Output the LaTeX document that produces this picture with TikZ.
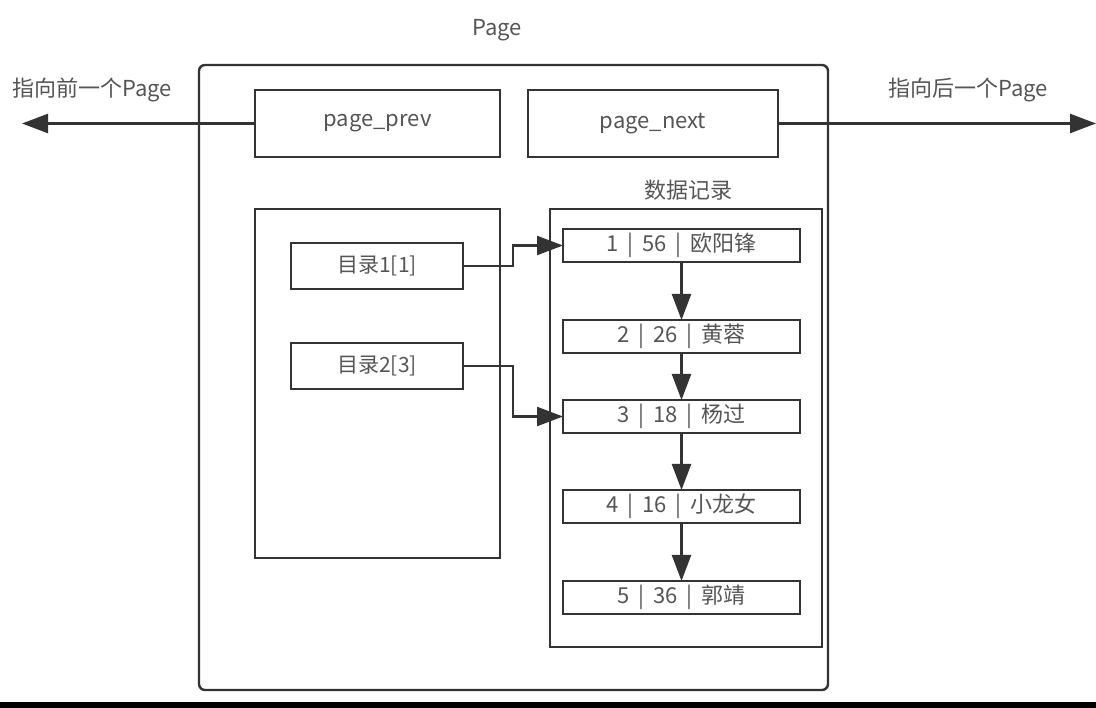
\documentclass[tikz,border=0pt]{standalone}
\usepackage{fontspec}
\setmainfont{Noto Sans CJK SC}
\usepackage{tikz}
\usetikzlibrary{arrows.meta,positioning}
\definecolor{edge}{HTML}{333333}
\definecolor{ink}{HTML}{555555}
\newcommand{\fsep}{\hspace{9pt}|\hspace{9pt}}
\tikzset{
	box/.style={draw=edge, line width=2.4pt, inner sep=0pt, outer sep=0pt, text=ink},
	rec/.style={box, minimum width=237pt, minimum height=33pt, font=\fontsize{22}{22}\selectfont},
	dir/.style={box, minimum width=172pt, minimum height=46pt, font=\fontsize{21}{21}\selectfont},
	lbl/.style={text=ink, inner sep=0pt, font=\fontsize{22}{22}\selectfont},
	link/.style={draw=edge, line width=2.4pt, -{Triangle[length=26pt,width=19pt]}},
}

\begin{document}
\begin{tikzpicture}[x=1pt,y=-1pt]
	\useasboundingbox (0,0) rectangle (1096,708);
	\fill[black] (0,702) rectangle (1096,708);

	\node[box, rounded corners=6pt, minimum width=629pt, minimum height=625pt] (page) at (513.5,377.5) {};
	\node[lbl] (pagetitle) at (497,30) {Page};

	\node[box, minimum width=245pt, minimum height=67pt, font=\fontsize{22}{22}\selectfont] (prev) at (377.5,123.5) {page\_prev};
	\node[box, minimum width=250pt, minimum height=67pt, font=\fontsize{22}{22}\selectfont] (next) at (653,123.5) {page\_next};
	\coordinate (prevend) at (22,123.5);
	\coordinate (nextend) at (1096,123.5);
	\node[lbl] (prevlbl) at (92,90) {指向前一个Page};
	\node[lbl] (nextlbl) at (968,90) {指向后一个Page};
	\draw[link] (prev.west) -- (prevend);
	\draw[link] (next.east) -- (nextend);

	% 目录
	\node[box, minimum width=245pt, minimum height=349pt] (index) at (377.5,383.5) {};
	\node[dir] (dir1) at (377,266) {目录1[1]};
	\node[dir, below=54pt of dir1] (dir2) {目录2[3]};

	% 数据记录
	\node[box, minimum width=272pt, minimum height=438pt] (data) at (686,428) {};
	\node[lbl] (datalbl) at (688,190) {数据记录};
	\node[rec] (r1) at (681.5,245.5) {1\fsep 56\fsep 欧阳锋};
	\node[rec, below=58pt of r1] (r2) {2\fsep 26\fsep 黄蓉};
	\node[rec, below=47pt of r2] (r3) {3\fsep 18\fsep 杨过};
	\node[rec, below=57pt of r3] (r4) {4\fsep 16\fsep 小龙女};
	\node[rec, below=58pt of r4] (r5) {5\fsep 36\fsep 郭靖};

	\draw[link] (r1) -- (r2);
	\draw[link] (r2) -- (r3);
	\draw[link] (r3) -- (r4);
	\draw[link] (r4) -- (r5);
	\draw[link] (dir1.east) -- ++(50,0) |- (r1.west);
	\draw[link] (dir2.east) -- ++(50,0) |- (r3.west);
\end{tikzpicture}
\end{document}
